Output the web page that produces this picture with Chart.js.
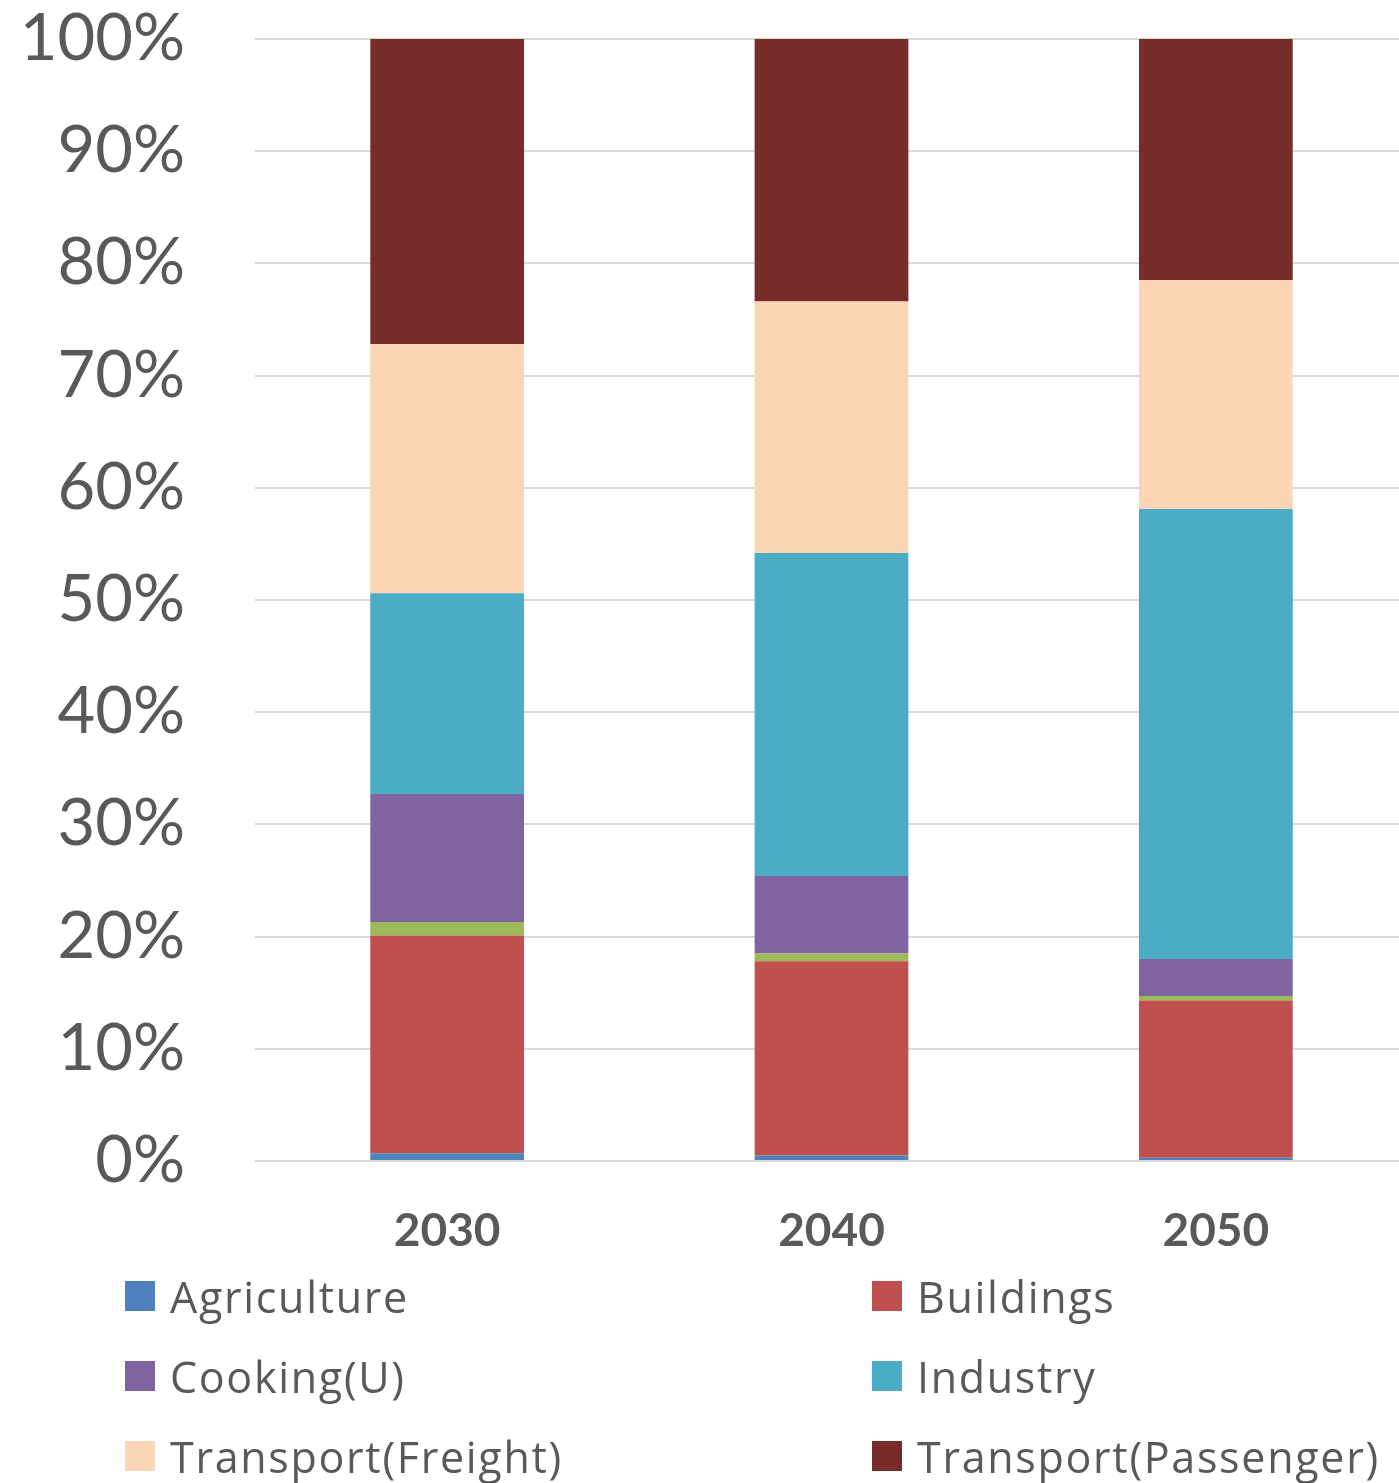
<!DOCTYPE html>
<html>
<head>
<meta charset="utf-8">
<title>Energy demand share by sector</title>
<script src="https://cdn.jsdelivr.net/npm/chart.js@4"></script>
<style>
html, body {
  margin: 0;
  padding: 0;
  background: #fff;
  overflow: hidden;
}
#wrap {
  position: relative;
  width: 1408px;
  height: 1483px;
}
#chartBox {
  position: absolute;
  left: 0;
  top: 0;
  width: 1408px;
  height: 1262px;
}
#legend {
  position: absolute;
  left: 0;
  top: 0;
  width: 1408px;
  height: 1483px;
  pointer-events: none;
  font-family: "Open Sans", Lato, sans-serif;
  font-size: 43px;
  letter-spacing: 1.7px;
  color: #595959;
}
.item {
  position: absolute;
  display: flex;
  align-items: center;
  height: 30px;
  white-space: nowrap;
}
.item .box {
  width: 30px;
  height: 30px;
  margin-right: 15px;
}
</style>
</head>
<body>
<div id="wrap">
  <div id="chartBox"><canvas id="chart"></canvas></div>
  <div id="legend"></div>
</div>

<script>
// share of final demand, percent
const years = ["2030", "2040", "2050"];
const agriculture = [0.7, 0.5, 0.3];
const buildings = [19.4, 17.3, 14.0];
const cookingR = [1.2, 0.7, 0.4];
const cookingU = [11.4, 6.9, 3.3];
const industry = [17.9, 28.8, 40.1];
const freight = [22.2, 22.4, 20.4];
const passenger = [27.2, 23.4, 21.5];
const yTicks = [0, 10, 20, 30, 40, 50, 60, 70, 80, 90, 100];

const series = [
  { label: "Agriculture", data: agriculture, color: "#4F81BD" },
  { label: "Buildings", data: buildings, color: "#C0504D" },
  { label: "Cooking(R)", data: cookingR, color: "#9BBB59", noLegend: true },
  { label: "Cooking(U)", data: cookingU, color: "#8064A2" },
  { label: "Industry", data: industry, color: "#4BACC6" },
  { label: "Transport(Freight)", data: freight, color: "#FCD5B5" },
  { label: "Transport(Passenger)", data: passenger, color: "#772C2A" },
];

const datasets = series.map((s) => ({
  label: s.label,
  data: s.data,
  backgroundColor: s.color,
  borderWidth: 0,
  barPercentage: 0.4,
  categoryPercentage: 1.0,
}));

const textColor = "#595959";

const chart = new Chart(document.getElementById("chart").getContext("2d"), {
  type: "bar",
  data: { labels: years, datasets: datasets },
  options: {
    responsive: true,
    maintainAspectRatio: false,
    animation: false,
    layout: { padding: { top: 39, left: 0, right: 0, bottom: 0 } },
    plugins: {
      legend: { display: false },
      tooltip: { enabled: false },
    },
    scales: {
      x: {
        stacked: true,
        grid: { display: false },
        border: { display: false },
        ticks: {
          color: textColor,
          padding: 35,
          font: { family: "Lato", size: 46, weight: "bold" },
        },
        afterFit: (scale) => {
          scale.height = 101;
          scale.paddingLeft = 0;
          scale.paddingRight = 0;
        },
      },
      y: {
        stacked: true,
        min: 0,
        max: 100,
        afterBuildTicks: (scale) => {
          scale.ticks = yTicks.map((v) => ({ value: v }));
        },
        grid: { color: "#d9d9d9", lineWidth: 2, drawTicks: false },
        border: { display: false },
        ticks: {
          color: textColor,
          padding: 70,
          font: { family: "Lato", size: 65 },
          callback: (v) => v + "%",
        },
        afterFit: (scale) => {
          scale.width = 255;
          // labels may overhang the plot edges
          scale.paddingTop = 0;
          scale.paddingBottom = 0;
        },
      },
    },
  },
});

// two-column legend under the plot
const legendEl = document.getElementById("legend");
const shown = series.filter((s) => !s.noLegend);
shown.forEach((s, i) => {
  const col = i % 2;
  const row = Math.floor(i / 2);
  const item = document.createElement("div");
  item.className = "item";
  item.style.left = (col === 0 ? 125 : 872) + "px";
  item.style.top = 1281 + row * 80 + "px";
  const box = document.createElement("span");
  box.className = "box";
  box.style.background = s.color;
  const txt = document.createElement("span");
  txt.textContent = s.label;
  item.appendChild(box);
  item.appendChild(txt);
  legendEl.appendChild(item);
});
</script>
</body>
</html>
